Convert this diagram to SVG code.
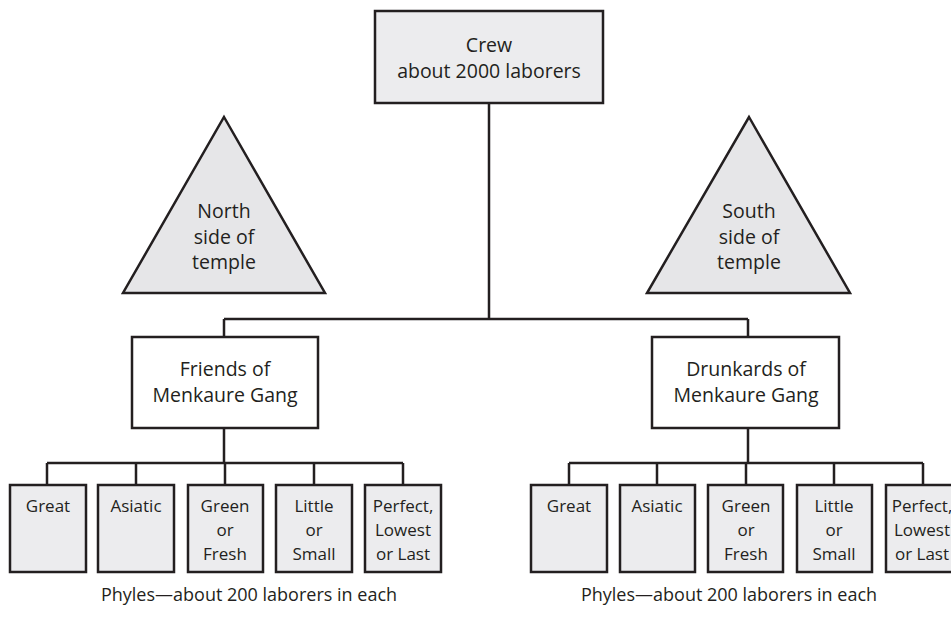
<svg xmlns="http://www.w3.org/2000/svg" width="951" height="619" viewBox="0 0 951 619">
  <style>
    .box { fill: #ececee; stroke: #231f20; stroke-width: 2.5; }
    .gang { fill: #ffffff; stroke: #231f20; stroke-width: 2.5; }
    .tri { fill: #e6e6e8; stroke: #231f20; stroke-width: 2.5; stroke-linejoin: miter; }
    .wire { fill: none; stroke: #231f20; stroke-width: 2.5; }
    text { font-family: "Open Sans", "Noto Sans", sans-serif; font-size: 17px; fill: #231f20; text-anchor: middle; }
    .big { font-size: 19.5px; }
    .cap { font-size: 18px; }
  </style>
  <rect width="951" height="619" fill="#ffffff"/>

  <!-- connectors -->
  <g id="connectors" class="wire">
    <path d="M489 103 V319 M224 319 H748 M224 319 V337 M748 319 V337"/>
    <path d="M224 428 V463 M47 463 H403 M47 463 V485 M136 463 V485 M225 463 V485 M314 463 V485 M403 463 V485"/>
    <path d="M748 428 V463 M569 463 H923 M569 463 V485 M657 463 V485 M746 463 V485 M834 463 V485 M923 463 V485"/>
  </g>

  <g id="crew">
    <rect class="box" x="375" y="11" width="228" height="92"/>
    <text class="big" x="489" y="52">Crew</text>
    <text class="big" x="489" y="78">about 2000 laborers</text>
  </g>

  <g id="north-side">
    <polygon class="tri" points="224,117 325,293 123,293"/>
    <text class="big" x="224" y="218">North</text>
    <text class="big" x="224" y="244">side of</text>
    <text class="big" x="224" y="269">temple</text>
  </g>

  <g id="south-side">
    <polygon class="tri" points="749,117 850,293 647,293"/>
    <text class="big" x="749" y="218">South</text>
    <text class="big" x="749" y="244">side of</text>
    <text class="big" x="749" y="269">temple</text>
  </g>

  <g id="friends-gang">
    <rect class="gang" x="132" y="337" width="186" height="91"/>
    <text class="big" x="225" y="376">Friends of</text>
    <text class="big" x="225" y="402">Menkaure Gang</text>
  </g>

  <g id="drunkards-gang">
    <rect class="gang" x="652" y="337" width="187" height="91"/>
    <text class="big" x="746" y="376">Drunkards of</text>
    <text class="big" x="746" y="402">Menkaure Gang</text>
  </g>

  <!-- phyles of the Friends gang -->
  <g id="f-great">
    <rect class="box" x="10" y="485" width="76" height="87"/>
    <text x="48" y="512">Great</text>
  </g>
  <g id="f-asiatic">
    <rect class="box" x="98" y="485" width="76" height="87"/>
    <text x="136" y="512">Asiatic</text>
  </g>
  <g id="f-green">
    <rect class="box" x="188" y="485" width="75" height="87"/>
    <text x="225" y="512">Green</text>
    <text x="225" y="536">or</text>
    <text x="225" y="560">Fresh</text>
  </g>
  <g id="f-little">
    <rect class="box" x="276" y="485" width="76" height="87"/>
    <text x="314" y="512">Little</text>
    <text x="314" y="536">or</text>
    <text x="314" y="560">Small</text>
  </g>
  <g id="f-perfect">
    <rect class="box" x="365" y="485" width="76" height="87"/>
    <text x="403" y="512">Perfect,</text>
    <text x="403" y="536">Lowest</text>
    <text x="403" y="560">or Last</text>
  </g>

  <!-- phyles of the Drunkards gang -->
  <g id="d-great">
    <rect class="box" x="531" y="485" width="76" height="87"/>
    <text x="569" y="512">Great</text>
  </g>
  <g id="d-asiatic">
    <rect class="box" x="620" y="485" width="75" height="87"/>
    <text x="657" y="512">Asiatic</text>
  </g>
  <g id="d-green">
    <rect class="box" x="708" y="485" width="75" height="87"/>
    <text x="746" y="512">Green</text>
    <text x="746" y="536">or</text>
    <text x="746" y="560">Fresh</text>
  </g>
  <g id="d-little">
    <rect class="box" x="797" y="485" width="75" height="87"/>
    <text x="834" y="512">Little</text>
    <text x="834" y="536">or</text>
    <text x="834" y="560">Small</text>
  </g>
  <g id="d-perfect">
    <rect class="box" x="886" y="485" width="76" height="87"/>
    <text x="922" y="512">Perfect,</text>
    <text x="922" y="536">Lowest</text>
    <text x="922" y="560">or Last</text>
  </g>

  <g id="captions">
    <text class="cap" x="249" y="601">Phyles—about 200 laborers in each</text>
    <text class="cap" x="729" y="601">Phyles—about 200 laborers in each</text>
  </g>
</svg>
